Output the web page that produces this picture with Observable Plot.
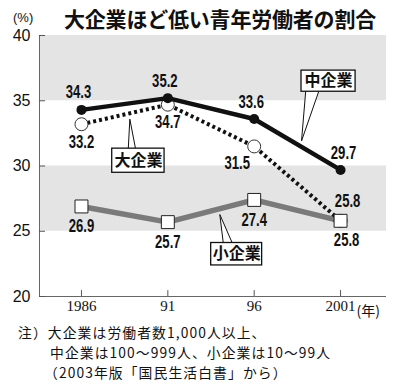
<!DOCTYPE html>
<html><head><meta charset="utf-8">
<script src="https://cdn.jsdelivr.net/npm/d3@7"></script>
<script src="https://cdn.jsdelivr.net/npm/@observablehq/plot@0.6"></script>
<style>
body{margin:0;background:#fff;}
#wrap{position:relative;width:400px;height:392px;overflow:hidden;background:#fff;font-family:"Noto Sans CJK JP",sans-serif;color:#111;}
#title{position:absolute;left:64px;top:5px;font-size:21px;font-weight:700;line-height:26px;white-space:nowrap;letter-spacing:-0.2px;}
#unit{position:absolute;left:13px;top:10px;font-size:13px;line-height:15px;font-family:"Liberation Sans",sans-serif;}
#chart{position:absolute;left:0;top:26px;}
.note{position:absolute;font-size:13.8px;line-height:20px;white-space:nowrap;letter-spacing:1.1px;}
</style></head>
<body><div id="wrap">
<div id="unit">(%)</div>
<div id="title">大企業ほど低い青年労働者の割合</div>
<div id="chart"></div>
<div class="note" style="left:18px;top:322px;">注）大企業は労働者数1,000人以上、</div>
<div class="note" style="left:50px;top:342px;">中企業は100〜999人、小企業は10〜99人</div>
<div class="note" style="left:44px;top:362px;">（2003年版「国民生活白書」から）</div>
</div>
<script>
const years = [1986, 1991, 1996, 2001];
const yearLabels = ["1986", "91", "96", "2001"];
const seriesNames = ["中企業", "大企業", "小企業"];
const chu = [34.3, 35.2, 33.6, 29.7];
const dai = [33.2, 34.7, 31.5, 25.8];
const sho = [26.9, 25.7, 27.4, 25.8];
const yTicks = [20, 25, 30, 35, 40];
const bands = [[35, 40], [25, 30]];

const mk = arr => years.map((y, i) => ({year: y, v: arr[i], label: arr[i].toFixed(1)}));
const chuD = mk(chu), daiD = mk(dai), shoD = mk(sho);

const X0 = 1983.57, X1 = 2003.66;
const numFont = '"Liberation Sans",Arial,sans-serif';

// callout annotations (data units)
const callouts = [
  {name: seriesNames[0], box: [1998.74, 2001.87, 35.69, 37.31], wedge: [[1998.98, 35.69], [1998.74, 31.92], [1999.73, 35.69]]},
  {name: seriesNames[1], box: [1987.78, 1990.81, 29.48, 31.33], wedge: [[1988.71, 31.33], [1988.80, 33.59], [1989.13, 31.33]]},
  {name: seriesNames[2], box: [1993.51, 1996.46, 22.38, 24.10], wedge: [[1994.21, 24.10], [1994.01, 26.28], [1994.73, 24.10]]}
];

const textOpts = {fontFamily: numFont, fontWeight: "bold", fontSize: 17.5, fill: "#111"};

const marks = [
  Plot.rect(bands, {y1: d => d[0], y2: d => d[1], fill: "#e4e4e4"}),
  Plot.ruleX([X0], {y1: 20, y2: 40, stroke: "#666", strokeWidth: 1}),
  Plot.ruleY([20], {x1: X0, x2: X1, stroke: "#666", strokeWidth: 1}),
  Plot.ruleY(yTicks, {x1: X0, x2: X0 + 0.35, stroke: "#555", strokeWidth: 1}),
  Plot.ruleX(years, {y1: 20, y2: 20.45, stroke: "#555", strokeWidth: 1}),
  Plot.axisY(yTicks, {tickSize: 0, tickPadding: 9, fontSize: 16, fontFamily: '"Liberation Sans",sans-serif', fill: "#111", label: null}),
  Plot.axisX(years, {tickSize: 0, tickPadding: 4, fontSize: 15, fontFamily: '"Liberation Serif",serif', fill: "#111", label: null, tickFormat: (d, i) => yearLabels[i]}),
  Plot.text(["(年)"], {x: years[3], y: 20, dx: 16, dy: 15, textAnchor: "start", fontSize: 14, fontFamily: '"Noto Sans CJK JP",sans-serif', fill: "#111"}),
  // 小企業
  Plot.line(shoD, {x: "year", y: "v", stroke: "#7a7a7a", strokeWidth: 5.5}),
  // 大企業
  Plot.line(daiD, {x: "year", y: "v", stroke: "#111", strokeWidth: 4, strokeDasharray: "3,3", strokeLinecap: "butt"}),
  Plot.dot(daiD, {x: "year", y: "v", r: 6.5, fill: "white", stroke: "#333", strokeWidth: 1}),
  Plot.dot(shoD, {x: "year", y: "v", symbol: "square", r: 7.3, fill: "white", stroke: "#222", strokeWidth: 1}),
  // 中企業
  Plot.line(chuD, {x: "year", y: "v", stroke: "#111", strokeWidth: 4.5}),
  Plot.dot(chuD, {x: "year", y: "v", r: 5, fill: "#111"}),
  // value labels
  Plot.text(chuD.slice(0, 3), {x: "year", y: "v", text: "label", dy: -17, dx: -3, ...textOpts}),
  Plot.text(chuD.slice(3), {x: "year", y: "v", text: "label", dy: -17, dx: 3, ...textOpts}),
  Plot.text(daiD.slice(0, 2), {x: "year", y: "v", text: "label", dy: 18, dx: 0, ...textOpts}),
  Plot.text(daiD.slice(2, 3), {x: "year", y: "v", text: "label", dy: 17, dx: -17, ...textOpts}),
  Plot.text(daiD.slice(3), {x: "year", y: "v", text: "label", dy: -19, dx: 7, ...textOpts}),
  Plot.text(shoD.slice(0, 3), {x: "year", y: "v", text: "label", dy: 20, dx: 0, ...textOpts}),
  Plot.text(shoD.slice(3), {x: "year", y: "v", text: "label", dy: 20, dx: 6, ...textOpts}),
  // callouts
  ...callouts.flatMap(c => [
    Plot.line(c.wedge, {x: d => d[0], y: d => d[1], fill: "white", stroke: "#111", strokeWidth: 1}),
    Plot.rect([c], {x1: d => d.box[0], x2: d => d.box[1], y1: d => d.box[2], y2: d => d.box[3], fill: "white", stroke: "#111", strokeWidth: 1.3}),
    Plot.text([c], {x: d => (d.box[0] + d.box[1]) / 2, y: d => (d.box[2] + d.box[3]) / 2, text: "name", fontSize: 16, fontWeight: "bold", fontFamily: '"Noto Sans CJK JP",sans-serif', fill: "#111"})
  ])
];

const chart = Plot.plot({
  width: 400, height: 296,
  marginTop: 9, marginBottom: 26, marginLeft: 39, marginRight: 14,
  style: {background: "transparent", overflow: "visible"},
  x: {type: "linear", domain: [X0, X1], axis: null},
  y: {domain: [20, 40], axis: null},
  marks
});
document.getElementById("chart").appendChild(chart);

// make sure the 大企業 line is drawn as square dots
d3.select(chart).selectAll("path").each(function() {
  const s = this.getAttribute("stroke") || (this.parentNode && this.parentNode.getAttribute("stroke"));
  const w = this.getAttribute("stroke-width") || (this.parentNode && this.parentNode.getAttribute("stroke-width"));
  if (s === "#111" && String(w) === "4") {
    this.setAttribute("stroke-dasharray", "3,3");
    this.setAttribute("stroke-linecap", "butt");
  }
});
// condense the value labels horizontally, like the narrow newspaper numerals
Array.from(chart.querySelectorAll("text")).filter(t => /^\d\d\.\d$/.test(t.textContent.trim())).forEach(t => {
  const bb = t.getBBox();
  const cx = bb.x + bb.width / 2;
  const prev = t.getAttribute("transform") || "";
  t.setAttribute("transform", `${prev} translate(${cx},0) scale(0.75,1) translate(${-cx},0)`);
});
</script>
</body></html>
